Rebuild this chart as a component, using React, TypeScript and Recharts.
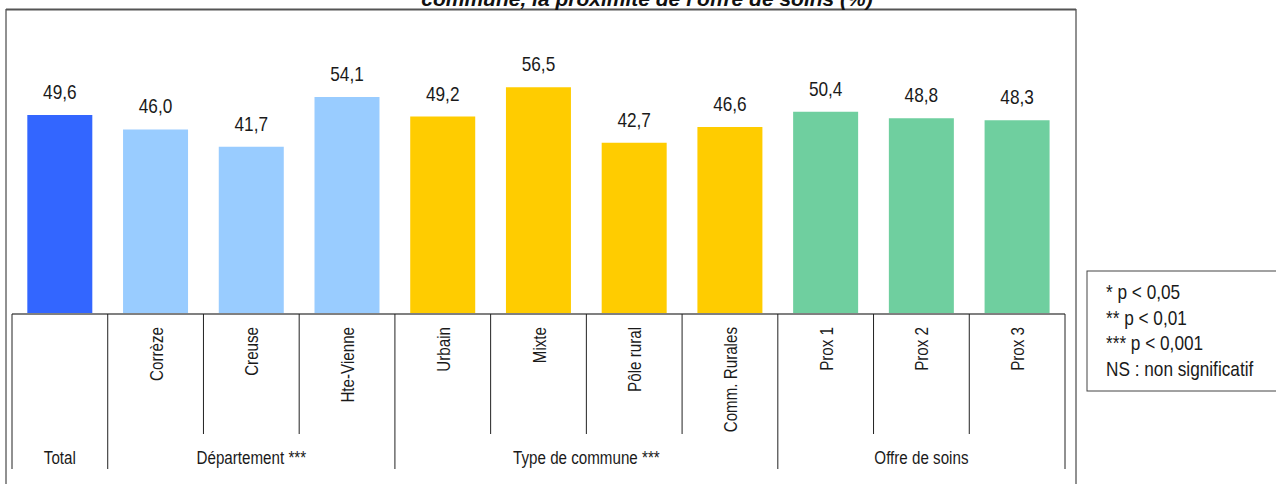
import React from 'react';
import { BarChart, Bar, XAxis, YAxis, Cell, LabelList } from 'recharts';

const categories = ['Total', 'Corrèze', 'Creuse', 'Hte-Vienne', 'Urbain', 'Mixte', 'Pôle rural', 'Comm. Rurales', 'Prox 1', 'Prox 2', 'Prox 3'];
const tickLabels = ['', 'Corrèze', 'Creuse', 'Hte-Vienne', 'Urbain', 'Mixte', 'Pôle rural', 'Comm. Rurales', 'Prox 1', 'Prox 2', 'Prox 3'];
const values = [49.6, 46.0, 41.7, 54.1, 49.2, 56.5, 42.7, 46.6, 50.4, 48.8, 48.3];
const groupOf = [0, 1, 1, 1, 2, 2, 2, 2, 3, 3, 3];
const groupLabels = ['Total', 'Département ***', 'Type de commune ***', 'Offre de soins'];
const groupColors = ['#3366FF', '#99CCFF', '#FFCC00', '#6FCF9F'];
const legendLines = ['* p < 0,05', '** p < 0,01', '*** p < 0,001', 'NS : non significatif'];
const title = "commune, la proximité de l'offre de soins (%)";

const FONT = "'Liberation Sans', Arial, sans-serif";
const SQUEEZE = 0.82; // no narrow font installed, so compress horizontally

const data = categories.map((c, i) => ({ name: c, value: values[i], group: groupOf[i] }));

// layout
const W = 1076;
const H = 484;
const M = { top: 9, right: 11, left: 12, bottom: 0 };
const AXIS_H = 170;
const PLOT_W = W - M.left - M.right;
const AXIS_Y = H - AXIS_H;
const BW = PLOT_W / categories.length;

const groupSize = (g: number) => groupOf.filter((v) => v === g).length;

const NarrowText = ({ x, y, rotate = 0, anchor = 'start', size, children }: any) => (
  <text
    x={0}
    y={0}
    transform={`translate(${x} ${y}) rotate(${rotate}) scale(${SQUEEZE} 1)`}
    textAnchor={anchor}
    fontSize={size}
    fontFamily={FONT}
    fill="#1a1a1a"
  >
    {children}
  </text>
);

const CategoryTick = (props: any) => {
  const { x, index } = props;
  const g = groupOf[index];
  const first = index === 0 || groupOf[index - 1] !== g;
  const last = index === categories.length - 1;
  const left = x - BW / 2;
  return (
    <g>
      <line x1={left} x2={left} y1={AXIS_Y} y2={first ? 469 : 434} stroke="#222" strokeWidth={1} />
      {last && <line x1={x + BW / 2} x2={x + BW / 2} y1={AXIS_Y} y2={469} stroke="#222" strokeWidth={1} />}
      {tickLabels[index] && (
        <NarrowText x={x + 7} y={327} rotate={-90} anchor="end" size={18.5}>
          {tickLabels[index]}
        </NarrowText>
      )}
      {first && (
        <NarrowText x={left + (groupSize(g) * BW) / 2} y={464} anchor="middle" size={18.5}>
          {groupLabels[g]}
        </NarrowText>
      )}
    </g>
  );
};

const ValueLabel = (props: any) => {
  const { x, y, width, value } = props;
  return (
    <NarrowText x={x + width / 2} y={y - 16} anchor="middle" size={21}>
      {Number(value).toFixed(1).replace('.', ',')}
    </NarrowText>
  );
};

const App = () => {
  return (
    <div style={{ position: 'absolute', left: 0, top: 0, width: 1276, height: 484, background: '#fff', overflow: 'hidden' }}>
      <div style={{ position: 'absolute', left: 0, top: 0 }}>
        <BarChart width={W} height={H} data={data} margin={M} barCategoryGap="16%">
          <XAxis
            dataKey="name"
            height={AXIS_H}
            interval={0}
            tickLine={false}
            axisLine={{ stroke: '#808080', strokeWidth: 2 }}
            tick={<CategoryTick />}
          />
          <YAxis hide domain={[0, 76]} />
          <Bar dataKey="value" isAnimationActive={false}>
            {data.map((d, i) => (
              <Cell key={`cell-${i}`} fill={groupColors[d.group]} />
            ))}
            <LabelList dataKey="value" content={<ValueLabel />} />
          </Bar>
        </BarChart>
      </div>
      <svg width={1276} height={484} style={{ position: 'absolute', left: 0, top: 0, pointerEvents: 'none' }}>
        {/* chart frame */}
        <line x1={6} x2={6} y1={9} y2={484} stroke="#222" strokeWidth={1} />
        <line x1={1076} x2={1076} y1={9} y2={484} stroke="#222" strokeWidth={1} />
        <line x1={6} x2={1076} y1={9.5} y2={9.5} stroke="#555" strokeWidth={2} />
        <text x={647} y={6} textAnchor="middle" fontSize={21} fontWeight="bold" fontStyle="italic" fontFamily={FONT} fill="#111">
          {title}
        </text>
        {/* significance box */}
        <rect x={1087} y={271} width={220} height={120} fill="#fff" stroke="#444" strokeWidth={1} />
        {legendLines.map((t, i) => (
          <NarrowText key={t} x={1106} y={299 + i * 25.5} size={21}>
            {t}
          </NarrowText>
        ))}
      </svg>
    </div>
  );
};

export default App;
